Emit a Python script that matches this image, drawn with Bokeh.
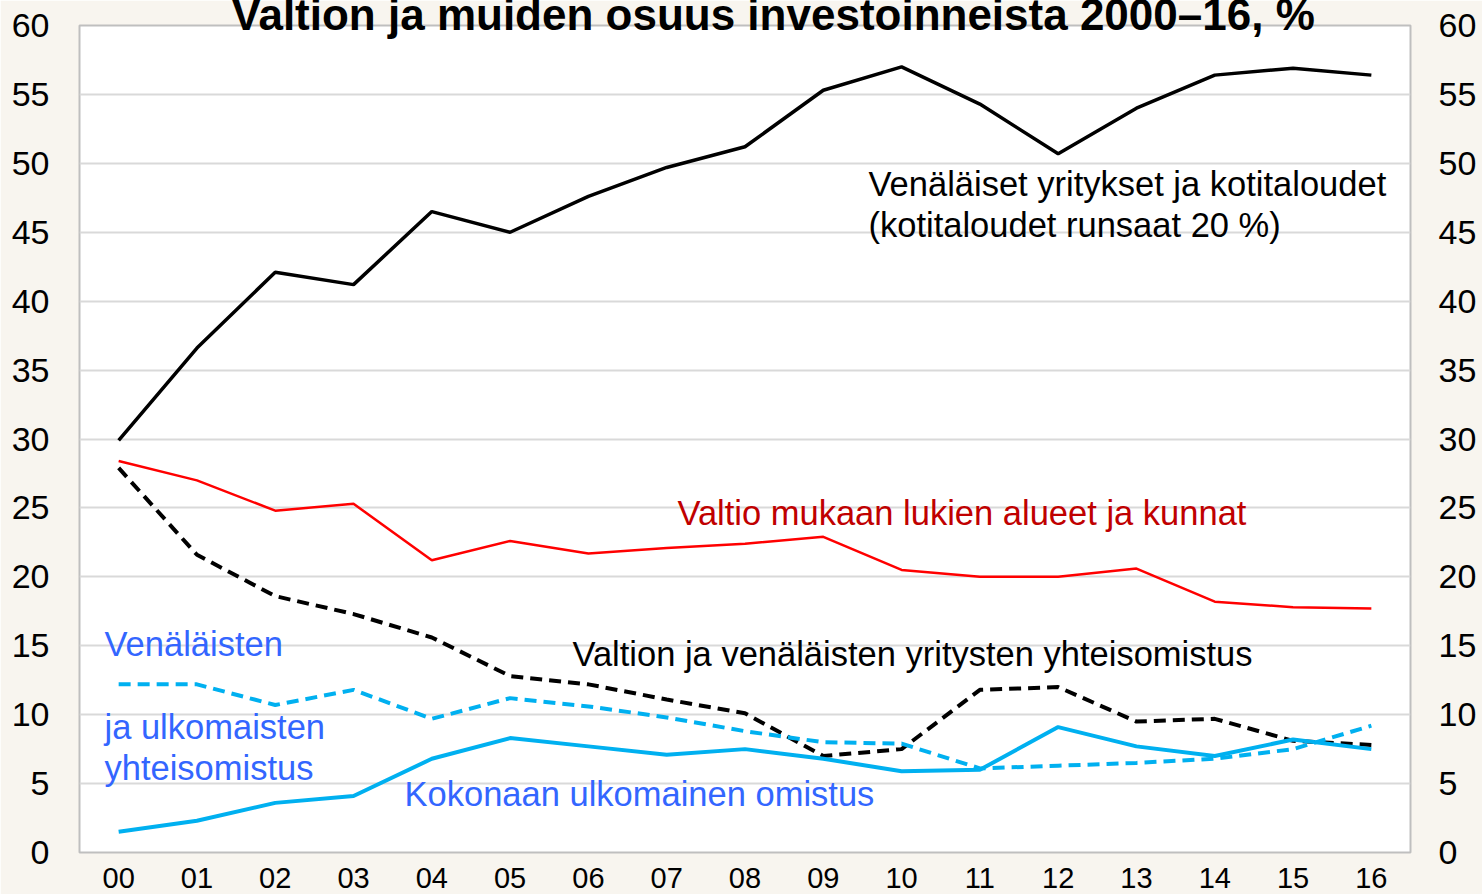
from bokeh.plotting import figure
from bokeh.models import Range1d, LinearAxis, FixedTicker, Label
from bokeh.embed import file_html
from bokeh.resources import INLINE

years = ["00", "01", "02", "03", "04", "05", "06", "07", "08", "09",
         "10", "11", "12", "13", "14", "15", "16"]
yritykset_kotitaloudet = [29.9, 36.6, 42.1, 41.2, 46.5, 45.0, 47.6, 49.7, 51.2,
                          55.3, 57.0, 54.3, 50.7, 54.0, 56.4, 56.9, 56.4]
valtio = [28.4, 27.0, 24.8, 25.3, 21.2, 22.6, 21.7, 22.1, 22.4,
          22.9, 20.5, 20.0, 20.0, 20.6, 18.2, 17.8, 17.7]
valtio_yritykset_yhteis = [27.9, 21.6, 18.6, 17.3, 15.6, 12.8, 12.2, 11.1, 10.1,
                           7.0, 7.5, 11.8, 12.0, 9.5, 9.7, 8.1, 7.8]
venal_ulkom_yhteis = [12.2, 12.2, 10.7, 11.8, 9.7, 11.2, 10.6, 9.8, 8.8,
                      8.0, 7.9, 6.1, 6.3, 6.5, 6.8, 7.5, 9.2]
ulkomainen = [1.5, 2.3, 3.6, 4.1, 6.8, 8.3, 7.7, 7.1, 7.5,
              6.8, 5.9, 6.0, 9.1, 7.7, 7.0, 8.2, 7.5]
y_ticks = list(range(0, 61, 5))

title_text = "Valtion ja muiden osuus investoinneista 2000\u201316, %"

FONT = "Liberation Sans"
BG = "#F8F5EF"

xs = list(range(len(years)))

p = figure(width=1482, height=894, output_backend="svg", toolbar_location=None,
           x_range=Range1d(-0.5, len(years) - 0.5), y_range=Range1d(0, 60),
           min_border_left=79, min_border_right=72, min_border_top=25,
           min_border_bottom=42, title=title_text)
p.title.text_font = FONT
p.title.text_font_size = "44px"
p.title.text_font_style = "bold"
p.title.text_color = "black"
p.title.align = "left"
p.title.vertical_align = "top"
p.title.standoff = -31
p.title.offset = 152

p.background_fill_color = "white"
p.border_fill_color = BG
p.outline_line_color = "#BFBFBF"
p.outline_line_width = 2

ticker = FixedTicker(ticks=y_ticks)
p.yaxis.ticker = ticker
p.ygrid.ticker = ticker
p.ygrid.grid_line_color = "#D9D9D9"
p.ygrid.grid_line_width = 2
p.xgrid.grid_line_color = None

p.xaxis.ticker = FixedTicker(ticks=xs)
p.xaxis.major_label_overrides = {i: y for i, y in enumerate(years)}

for ax in [p.xaxis[0], p.yaxis[0]]:
    ax.axis_line_color = None
    ax.major_tick_line_color = None
    ax.minor_tick_line_color = None
    ax.major_label_text_font = FONT
    ax.major_label_text_color = "black"
p.xaxis.major_label_text_font_size = "29px"
p.xaxis.major_label_standoff = 9
p.yaxis.major_label_text_font_size = "34px"
p.yaxis.major_label_standoff = 24

raxis = LinearAxis(ticker=ticker, axis_line_color=None, major_tick_line_color=None,
                   minor_tick_line_color=None, major_label_text_font=FONT,
                   major_label_text_font_size="34px", major_label_standoff=22,
                   major_label_text_color="black")
p.add_layout(raxis, "right")

CYAN = "#00B0F0"
p.line(xs, yritykset_kotitaloudet, line_color="black", line_width=3.5)
p.line(xs, valtio, line_color="#FF0000", line_width=2.5)
p.line(xs, valtio_yritykset_yhteis, line_color="black", line_width=4, line_dash="12 7")
p.line(xs, venal_ulkom_yhteis, line_color=CYAN, line_width=4, line_dash="12 7")
p.line(xs, ulkomainen, line_color=CYAN, line_width=4)

def lab(x, y, text, color, size="34.5px"):
    p.add_layout(Label(x=x, y=y, text=text, text_color=color, text_font=FONT,
                       text_font_size=size, text_baseline="alphabetic",
                       text_align="left"))

lab(9.577, 48.48, "Venäläiset yritykset ja kotitaloudet", "black")
lab(9.577, 45.50, "(kotitaloudet runsaat 20 %)", "black")
lab(7.137, 24.60, "Valtio mukaan lukien alueet ja kunnat", "#C00000")
lab(5.796, 14.37, "Valtion ja venäläisten yritysten yhteisomistus", "black")
BLUE = "#3366FF"
lab(-0.181, 15.10, "Venäläisten", BLUE)
lab(-0.181, 9.08, "ja ulkomaisten", BLUE)
lab(-0.181, 6.10, "yhteisomistus", BLUE)
lab(3.651, 4.21, "Kokonaan ulkomainen omistus", BLUE)

open("out.html", "w").write(file_html(p, INLINE))
